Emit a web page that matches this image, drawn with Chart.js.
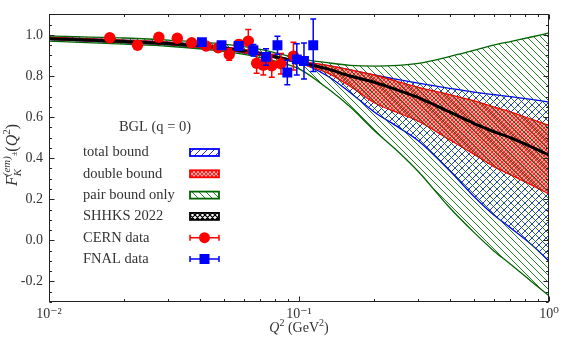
<!DOCTYPE html>
<html><head><meta charset="utf-8">
<script src="https://cdn.jsdelivr.net/npm/chart.js@4.4.0/dist/chart.umd.min.js"></script>
<style>html,body{margin:0;padding:0;background:#fff}canvas{display:block}</style>
</head><body><canvas id="c" width="567" height="340"></canvas>
<script>
// ---- data ----
const q2Grid      = [0.01, 0.02, 0.03, 0.05, 0.07, 0.1, 0.13, 0.16, 0.2, 0.25, 0.3, 0.4, 0.5, 0.6, 0.7, 0.85, 1.0];
const pairUpper   = [0.995,0.985,0.975,0.955,0.930,0.885,0.865,0.852,0.848,0.852,0.862,0.895,0.925,0.950,0.968,0.990,1.010];
const pairLower   = [0.970,0.955,0.945,0.920,0.890,0.835,0.740,0.650,0.535,0.430,0.335,0.160,0.040,-0.050,-0.115,-0.200,-0.270];
const totalUpper  = [0.988,0.975,0.965,0.942,0.915,0.872,0.850,0.830,0.805,0.782,0.765,0.740,0.722,0.710,0.700,0.686,0.673];
const totalLower  = [0.978,0.962,0.952,0.928,0.900,0.865,0.800,0.720,0.625,0.550,0.485,0.340,0.215,0.125,0.062,-0.020,-0.100];
const doubleUpper = [0.988,0.975,0.965,0.942,0.915,0.872,0.852,0.830,0.805,0.772,0.745,0.710,0.680,0.650,0.625,0.590,0.560];
const doubleLower = [0.978,0.963,0.953,0.929,0.901,0.862,0.815,0.750,0.670,0.620,0.580,0.490,0.420,0.360,0.320,0.270,0.225];
const shhks       = [0.982,0.968,0.958,0.935,0.908,0.868,0.835,0.800,0.770,0.730,0.695,0.625,0.570,0.530,0.500,0.455,0.415];

const cernQ2  = [0.0175,0.0226,0.0275,0.0326,0.0372,0.0425,0.0475,0.0526,0.0575,0.0627,0.0677,0.0720,0.0778,0.0847,0.0950];
const cernF   = [0.986, 0.950, 0.989, 0.984, 0.962, 0.946, 0.938, 0.905, 0.954, 0.970, 0.862, 0.853, 0.850, 0.860, 0.897];
const cernErr = [0.010, 0.012, 0.012, 0.013, 0.014, 0.015, 0.016, 0.028, 0.020, 0.056, 0.048, 0.048, 0.056, 0.050, 0.068];

const fnalQ2  = [0.0409,0.0490,0.0574,0.0657,0.0738,0.0820,0.0898,0.0980,0.1047,0.1140];
const fnalF   = [0.965, 0.950, 0.946, 0.926, 0.893, 0.950, 0.817, 0.881, 0.873, 0.950];
const fnalErr = [0.010, 0.012, 0.015, 0.028, 0.040, 0.044, 0.060, 0.076, 0.088, 0.128];

const xTickValues = [0.01, 0.1, 1];
const xTickLabels = ['10\u207B\u00B2', '10\u207B\u00B9', '10\u2070'];
const yTickValues = [-0.2, 0.0, 0.2, 0.4, 0.6, 0.8, 1.0];
const yTickLabels = ['-0.2', '0.0', '0.2', '0.4', '0.6', '0.8', '1.0'];

const legendTitle  = 'BGL (q = 0)';
const legendLabels = ['total bound', 'double bound', 'pair bound only', 'SHHKS 2022', 'CERN data', 'FNAL data'];

// ---- styles ----
const FONT = "'Liberation Serif', 'DejaVu Serif', serif";
const TXT = '#333';
function hatch(size, bg, color, lw, dirs) {
  const c = document.createElement('canvas');
  c.width = size; c.height = size;
  const g = c.getContext('2d');
  if (bg) { g.fillStyle = bg; g.fillRect(0, 0, size, size); }
  g.strokeStyle = color; g.lineWidth = lw;
  g.beginPath();
  for (let k = -1; k <= 1; k++) {
    if (dirs.includes('\\')) { g.moveTo(k * size, 0); g.lineTo(k * size + size, size); }
    if (dirs.includes('/'))  { g.moveTo(k * size, size); g.lineTo(k * size + size, 0); }
  }
  g.stroke();
  return g.createPattern(c, 'repeat');
}
const greenHatch = hatch(7, null, 'rgba(0,110,0,0.85)', 1, '\\');
const blueHatch  = hatch(7, null, 'rgba(0,0,255,0.85)', 1, '/');
const redHatch   = hatch(4, 'rgba(255,160,160,0.9)', 'rgba(255,20,20,0.9)', 1, '\\/');
const blackHatch = hatch(5, '#fff', '#000', 1.2, '\\/');

const pts = arr => q2Grid.map((q, i) => ({ x: q, y: arr[i] }));
const scat = (xs, ys) => xs.map((q, i) => ({ x: q, y: ys[i] }));

const errorBars = {
  id: 'errorBars',
  beforeDatasetDraw(chart, args) {
    const ds = chart.data.datasets[args.index];
    if (!ds.errors) return;
    const { ctx, scales: { x, y } } = chart;
    ctx.save();
    ctx.strokeStyle = ds.backgroundColor; ctx.lineWidth = 1.5;
    ds.data.forEach((p, i) => {
      const px = x.getPixelForValue(p.x);
      const y1 = y.getPixelForValue(p.y - ds.errors[i]);
      const y2 = y.getPixelForValue(p.y + ds.errors[i]);
      ctx.beginPath();
      ctx.moveTo(px, y1); ctx.lineTo(px, y2);
      ctx.moveTo(px - 3, y1); ctx.lineTo(px + 3, y1);
      ctx.moveTo(px - 3, y2); ctx.lineTo(px + 3, y2);
      ctx.stroke();
    });
    ctx.restore();
  }
};

function drawRich(ctx, pieces, cx, baseY) {
  let w = 0;
  const pos = [];
  let subStart = 0;
  pieces.forEach(p => {
    ctx.font = p.font;
    const m = ctx.measureText(p.t).width;
    let px;
    if (p.stack) { px = subStart; } else { px = w; subStart = w; }
    pos.push(px);
    const end = px + m;
    if (p.stack) w = Math.max(w, end); else w = end;
  });
  const x0 = cx - w / 2;
  pieces.forEach((p, i) => {
    ctx.font = p.font;
    ctx.fillText(p.t, x0 + pos[i], baseY + (p.dy || 0));
  });
}

const frame = {
  id: 'frame',
  afterDraw(chart) {
    const { ctx, chartArea: a, scales: { x, y } } = chart;
    ctx.save();
    ctx.strokeStyle = '#222'; ctx.lineWidth = 1;
    const L = Math.round(a.left) + 0.5, R = Math.round(a.right) - 0.5;
    const T = Math.round(a.top) + 0.5, B = Math.round(a.bottom) - 0.5;
    ctx.strokeRect(L, T, R - L, B - T);
    ctx.beginPath();
    for (let d = -2; d <= 0; d++) {
      for (let m = 1; m <= 9; m++) {
        const v = m * Math.pow(10, d);
        if (v > 1.0001) break;
        const px = Math.round(x.getPixelForValue(v)) + 0.5;
        const len = m === 1 ? 5 : 2.5;
        ctx.moveTo(px, B); ctx.lineTo(px, B - len);
        ctx.moveTo(px, T); ctx.lineTo(px, T + len);
      }
    }
    for (let i = -6; i <= 22; i++) {
      const v = i * 0.05;
      const py = Math.round(y.getPixelForValue(v)) + 0.5;
      const len = (i % 4 === 0) ? 5 : 2.5;
      ctx.moveTo(L, py); ctx.lineTo(L + len, py);
      ctx.moveTo(R, py); ctx.lineTo(R - len, py);
    }
    ctx.stroke();

    ctx.fillStyle = TXT;
    ctx.textBaseline = 'alphabetic';
    ctx.textAlign = 'left';
    drawRich(ctx, [
      { t: 'Q', font: `italic 14px ${FONT}` },
      { t: '2', font: `10px ${FONT}`, dy: -6 },
      { t: ' (GeV', font: `14px ${FONT}` },
      { t: '2', font: `10px ${FONT}`, dy: -6 },
      { t: ')', font: `14px ${FONT}` }
    ], (a.left + a.right) / 2, 332);

    ctx.save();
    ctx.translate(17, 155);
    ctx.rotate(-Math.PI / 2);
    drawRich(ctx, [
      { t: 'F', font: `italic 16px ${FONT}` },
      { t: '(em)', font: `italic 11px ${FONT}`, dy: -7 },
      { t: 'K', font: `italic 11px ${FONT}`, dy: 4, stack: true },
      { t: '\u00B1', font: `8px ${FONT}`, dy: 0 },
      { t: '(', font: `16px ${FONT}` },
      { t: 'Q', font: `italic 16px ${FONT}` },
      { t: '2', font: `11px ${FONT}`, dy: -7 },
      { t: ')', font: `16px ${FONT}` }
    ], 0, 0);
    ctx.restore();

    ctx.font = `14.5px ${FONT}`;
    ctx.textBaseline = 'middle';
    ctx.textAlign = 'center';
    ctx.fillText(legendTitle, 155, 127);
    ctx.textAlign = 'left';
    const fills = [[blueHatch, '#0000ff'], [redHatch, '#ff0000'], [greenHatch, '#006400'], [blackHatch, '#000']];
    legendLabels.forEach((lab, i) => {
      const yy = 152.5 + i * 21.3;
      ctx.fillStyle = TXT;
      ctx.fillText(lab, 83, yy);
      const hx = 190, hw = 29;
      if (i < 4) {
        ctx.fillStyle = '#fff';
        ctx.fillRect(hx, yy - 3.5, hw, 7);
        ctx.fillStyle = fills[i][0];
        ctx.fillRect(hx, yy - 3.5, hw, 7);
        ctx.strokeStyle = fills[i][1]; ctx.lineWidth = 1.8;
        ctx.strokeRect(hx, yy - 3.5, hw, 7);
      } else {
        const col = i === 4 ? '#ff0000' : '#0000ff';
        ctx.strokeStyle = col; ctx.fillStyle = col; ctx.lineWidth = 1.5;
        ctx.beginPath();
        ctx.moveTo(hx, yy); ctx.lineTo(hx + hw, yy);
        ctx.moveTo(hx, yy - 3); ctx.lineTo(hx, yy + 3);
        ctx.moveTo(hx + hw, yy - 3); ctx.lineTo(hx + hw, yy + 3);
        ctx.stroke();
        ctx.beginPath();
        if (i === 4) ctx.arc(hx + hw / 2, yy, 5.5, 0, Math.PI * 2);
        else ctx.rect(hx + hw / 2 - 5, yy - 5, 10, 10);
        ctx.fill();
      }
    });
    ctx.restore();
  }
};

const band = (arr, color, pattern, fill, order) => ({
  data: pts(arr), borderColor: color, borderWidth: 1.3,
  backgroundColor: pattern || color, fill: fill, pointRadius: 0,
  cubicInterpolationMode: 'monotone', order: order
});

new Chart(document.getElementById('c'), {
  type: 'line',
  data: {
    datasets: [
      band(totalLower, '#0000ff', null, false, 5),
      band(totalUpper, '#0000ff', blueHatch, '-1', 5),
      band(doubleLower, '#ff0000', null, false, 4),
      band(doubleUpper, '#ff0000', redHatch, '-1', 4),
      band(pairLower, '#006400', null, false, 3),
      band(pairUpper, '#006400', greenHatch, '-1', 3),
      { data: pts(shhks), borderColor: '#000', borderWidth: 3, pointRadius: 0, fill: false,
        cubicInterpolationMode: 'monotone', order: 2 },
      { data: scat(cernQ2, cernF), errors: cernErr, showLine: false, pointStyle: 'circle',
        pointRadius: 5.7, backgroundColor: '#ff0000', borderWidth: 0, order: 1 },
      { data: scat(fnalQ2, fnalF), errors: fnalErr, showLine: false, pointStyle: 'rect',
        pointRadius: 7, backgroundColor: '#0000ff', borderWidth: 0, order: 0 }
    ]
  },
  options: {
    responsive: false, animation: false, devicePixelRatio: 1,
    layout: { padding: { top: 8.5, right: 18, left: 0, bottom: 0 } },
    plugins: { legend: { display: false }, tooltip: { enabled: false } },
    scales: {
      x: {
        type: 'logarithmic', min: 0.01, max: 1,
        grid: { display: false, drawTicks: false }, border: { display: false },
        afterBuildTicks: s => { s.ticks = xTickValues.map(v => ({ value: v })); },
        afterFit: s => { s.height = 38; },
        ticks: { padding: 4, color: TXT, font: { family: FONT, size: 14 }, maxRotation: 0, autoSkip: false,
          callback: (v, i) => xTickLabels[i] }
      },
      y: {
        type: 'linear', min: -0.3, max: 1.1,
        grid: { display: false, drawTicks: false }, border: { display: false },
        afterBuildTicks: s => { s.ticks = yTickValues.map(v => ({ value: v })); },
        afterFit: s => { s.width = 49; },
        ticks: { padding: 6, color: TXT, font: { family: FONT, size: 14 }, autoSkip: false,
          callback: (v, i) => yTickLabels[i] }
      }
    }
  },
  plugins: [errorBars, frame]
});
</script>
</body></html>
